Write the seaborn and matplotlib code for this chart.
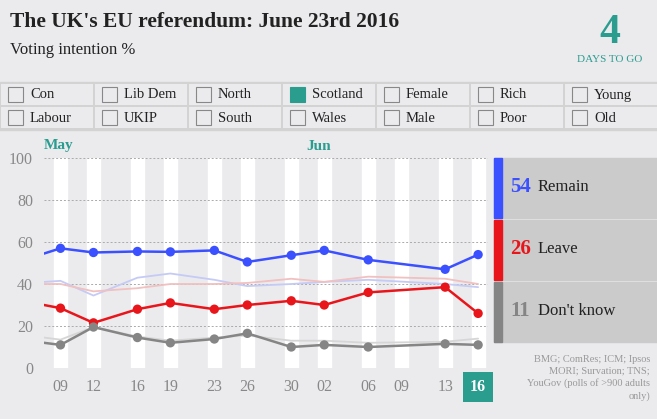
import matplotlib
matplotlib.use("Agg")
import matplotlib.pyplot as plt
import seaborn as sns
import pandas as pd
from matplotlib.patches import Rectangle

sns.set_theme(style="white")
plt.rcParams['font.family'] = ['Liberation Serif', 'DejaVu Serif']

days = [7.5, 9, 12, 16, 19, 23, 26, 30, 33, 37, 44, 47]
remain = [54.5, 57, 55, 55.5, 55.3, 56, 50.5, 53.7, 56, 51.5, 47, 54]
leave = [30, 28.5, 21.5, 28, 31, 28, 30, 32, 30, 36, 38.5, 26]
dontknow = [12, 11, 19.5, 14.5, 12, 13.8, 16.5, 10, 11, 10, 11.5, 11]
nat_remain = [41, 41.5, 34.5, 43, 45, 42, 39, 40, 41, 42, 40, 38.5]
nat_leave = [40, 40, 36.5, 38, 40, 40, 40.5, 42.5, 41, 43.5, 42.5, 40]
nat_dk = [14.5, 13.5, 19.5, 15, 13, 14.5, 15.5, 13, 13, 12, 12.5, 14]
tick_days = [9, 12, 16, 19, 23, 26, 30, 33, 37, 40, 44, 47]
tick_labels = ["09", "12", "16", "19", "23", "26", "30", "02", "06", "09", "13", "16"]
categories = [["Con", "Lib Dem", "North", "Scotland", "Female", "Rich", "Young"],
              ["Labour", "UKIP", "South", "Wales", "Male", "Poor", "Old"]]
legend_vals = [54, 26, 11]
legend_names = ["Remain", "Leave", "Don't know"]

BG = "#ebebee"; TEAL = "#2a9d8f"
BLUE = "#3b50ff"; RED = "#e8161b"; GRAY = "#858585"

fig = plt.figure(figsize=(6.57, 4.19), dpi=100)
fig.patch.set_facecolor(BG)
W, H = 657, 419
def fx(x): return x / W
def fy(y): return 1 - y / H

fig.text(fx(10), fy(22), "The UK's EU referendum: June 23rd 2016", fontsize=15.5, fontweight="bold", color="#222", va="center")
fig.text(fx(10), fy(50), "Voting intention %", fontsize=12, color="#222", va="center")
fig.text(fx(610), fy(33), "4", fontsize=30, fontweight="bold", color=TEAL, ha="center", va="center")
fig.text(fx(610), fy(60), "DAYS TO GO", fontsize=8, color=TEAL, ha="center", va="center")

# checkbox band
fig.patches.append(Rectangle((0, fy(130)), 1, (130 - 82) / H, transform=fig.transFigure, color="#d3d3d3", zorder=0))
cw = 94
for r, row in enumerate(categories):
    for c, name in enumerate(row):
        x0 = c * cw
        y0 = 84 + r * 23
        fig.patches.append(Rectangle((fx(x0 + 1), fy(y0 + 21)), (cw - 2) / W, 21 / H, transform=fig.transFigure,
                                     facecolor=BG, edgecolor="none", zorder=1))
        checked = name == "Scotland"
        fig.patches.append(Rectangle((fx(x0 + 8), fy(y0 + 18)), 15 / W, 15 / H, transform=fig.transFigure,
                                     facecolor=TEAL if checked else BG, edgecolor=TEAL if checked else "#888", lw=0.8, zorder=2))
        fig.text(fx(x0 + 30), fy(y0 + 11), name, fontsize=10.5, color="#222", va="center", zorder=3)

ax = fig.add_axes([fx(44), fy(368), (488 - 44) / W, (368 - 158) / H])
ax.set_facecolor(BG)
for t in tick_days:
    ax.axvspan(t - 0.6, t + 0.6, color="white", zorder=0)
for yv in [0, 20, 40, 60, 80, 100]:
    ax.axhline(yv, color="#aaa", ls=(0, (2, 2)), lw=0.7, zorder=1)

df = pd.DataFrame({"day": days, "remain": remain, "leave": leave, "dk": dontknow,
                   "nr": nat_remain, "nl": nat_leave, "nd": nat_dk})
sns.lineplot(data=df, x="day", y="nr", color="#c5cbf5", lw=1.3, ax=ax, zorder=2)
sns.lineplot(data=df, x="day", y="nl", color="#f1c0c0", lw=1.3, ax=ax, zorder=2)
sns.lineplot(data=df, x="day", y="nd", color="#d6d6d6", lw=1.3, ax=ax, zorder=2)
for col, c in [("remain", BLUE), ("leave", RED), ("dk", GRAY)]:
    sns.lineplot(data=df, x="day", y=col, color=c, lw=1.8, ax=ax, zorder=3)
    sns.scatterplot(data=df.iloc[1:], x="day", y=col, color=c, s=45, edgecolor="none", ax=ax, zorder=4)

ax.set_xlim(7.5, 47.9)
ax.set_ylim(0, 100)
ax.set_xticks(tick_days)
ax.set_xticklabels(tick_labels, fontsize=11.5, color="#888")
ax.set_yticks([0, 20, 40, 60, 80, 100])
ax.set_yticklabels(["0", "20", "40", "60", "80", "100"], fontsize=11.5, color="#888")
ax.tick_params(length=0, pad=8)
ax.set_xlabel(""); ax.set_ylabel("")
for s in ax.spines.values():
    s.set_visible(False)
lab = ax.get_xticklabels()[-1]
lab.set_color("white"); lab.set_fontweight("bold")
lab.set_bbox(dict(facecolor=TEAL, edgecolor="none", pad=5))
fig.text(fx(44), fy(146), "May", fontsize=11, fontweight="bold", color=TEAL, va="center")
fig.text(fx(306), fy(146), "Jun", fontsize=11, fontweight="bold", color=TEAL, va="center")

# legend panels
for i, (v, n, c) in enumerate(zip(legend_vals, legend_names, [BLUE, RED, GRAY])):
    y0 = 158 + i * 62
    fig.patches.append(Rectangle((fx(494), fy(y0 + 60)), (657 - 494) / W, 60 / H, transform=fig.transFigure, color="#cbcbcb"))
    fig.patches.append(Rectangle((fx(494), fy(y0 + 60)), 8 / W, 60 / H, transform=fig.transFigure, color=c))
    fig.text(fx(510), fy(y0 + 29), f"{v}", fontsize=15, fontweight="bold", color=c, va="center")
    fig.text(fx(538), fy(y0 + 29), n, fontsize=12, color="#222", va="center")

fig.text(fx(650), fy(378), "BMG; ComRes; ICM; Ipsos\nMORI; Survation; TNS;\nYouGov (polls of >900 adults\nonly)",
         fontsize=7.5, color="#999", ha="right", va="center", linespacing=1.35)

fig.savefig("out.png", dpi=100, facecolor=BG)
